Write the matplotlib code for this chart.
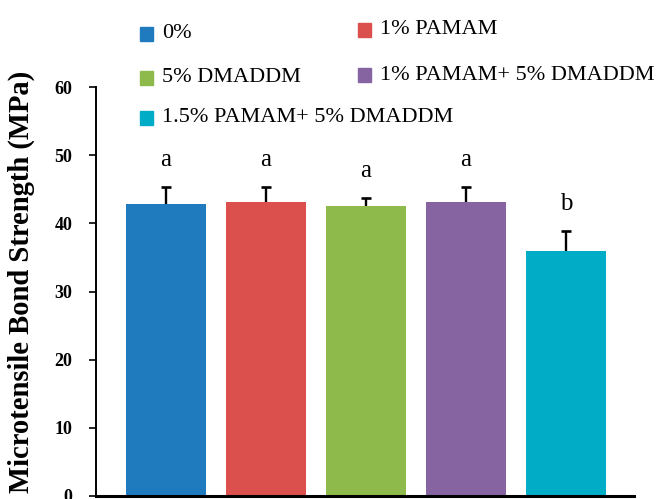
import matplotlib
matplotlib.use("Agg")
import matplotlib.pyplot as plt
from matplotlib.patches import Rectangle

groups = ["0%", "1% PAMAM", "5% DMADDM", "1% PAMAM+ 5% DMADDM",
          "1.5% PAMAM+ 5% DMADDM"]
means = [42.9, 43.1, 42.5, 43.1, 35.9]
sds = [2.4, 2.2, 1.2, 2.2, 3.0]
letters = ["a", "a", "a", "a", "b"]
colors = ["#1f7bbd", "#db504c", "#8eb94b", "#8664a2", "#00acc6"]

plt.rcParams["font.family"] = ["Liberation Serif", "DejaVu Serif"]

fig = plt.figure(figsize=(6.61, 4.99), dpi=100)
ax = fig.add_axes([96 / 661, 1 - 496 / 499, 538 / 661, 409 / 499])

x = list(range(len(groups)))
tops = [m + s for m, s in zip(means, sds)]
ax.bar(x, means, width=0.8, color=colors)
# upper error bars only, cap on top
ax.vlines(x, means, tops, color="black", linewidth=1.7)
ax.plot(x, tops, linestyle="none", marker="_", markersize=7,
        markeredgewidth=1.9, color="black")
for xi, t, lab in zip(x, tops, letters):
    ax.text(xi, t + 3.1, lab, ha="center", va="baseline", fontsize=18)

ax.set_xlim(-0.7, 4.68)
ax.set_ylim(0, 60)
ax.set_yticks(range(0, 61, 10))
ax.set_xticks([])
for lab in ax.get_yticklabels():
    lab.set_fontweight("bold")
    lab.set_fontsize(13)
ax.tick_params(axis="y", direction="out", length=5, width=1.2, pad=12)
ax.spines["top"].set_visible(False)
ax.spines["right"].set_visible(False)
ax.spines["left"].set_linewidth(1.4)
ax.spines["bottom"].set_linewidth(2.2)
ax.set_ylabel("Microtensile Bond Strength (MPa)", fontsize=20.6,
              fontweight="bold")
ax.yaxis.set_label_coords(-0.113, 0.523)

# legend entries placed by hand (two loose columns)
legend_pos = [(140, 34), (358, 30), (140, 78), (358, 75), (140, 118)]
for (px, py), name, c in zip(legend_pos, groups, colors):
    fig.patches.append(Rectangle((px / 661, 1 - (py + 7) / 499),
                                 13 / 661, 14 / 499, color=c,
                                 transform=fig.transFigure, figure=fig))
    fig.text((px + 22) / 661, 1 - py / 499, name, fontsize=16,
             va="center", ha="left")

plt.savefig("out.png", dpi=100)
